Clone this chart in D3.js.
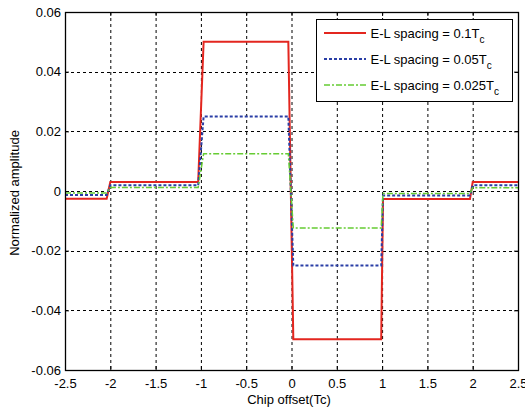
<!DOCTYPE html>
<html><head><meta charset="utf-8">
<script src="https://cdn.jsdelivr.net/npm/d3@7"></script>
<style>body{margin:0;background:#fff}svg{display:block}text{font-family:"Liberation Sans",Arial,sans-serif}</style>
</head><body><svg id="c" width="525" height="410"></svg>
<script>
// Breakpoints (Chip offset, Tc) shared by all series
const xBreaks = [-2.5, -2.04, -2.0, -1.03, -0.97, -0.035, 0.02, 0.99, 1.01, 1.97, 2.0, 2.5];
const red   = [-0.0026, -0.0026, 0.003, 0.003, 0.05, 0.05, -0.0497, -0.0497, -0.0027, -0.0027, 0.003, 0.003];
const blue  = [-0.0013, -0.0013, 0.0019, 0.0019, 0.025, 0.025, -0.025, -0.025, -0.0015, -0.0015, 0.0019, 0.0019];
const green = [-0.0007, -0.0007, 0.0012, 0.0012, 0.0125, 0.0125, -0.0124, -0.0124, -0.0008, -0.0008, 0.0011, 0.0011];
const xTicks = [-2.5, -2, -1.5, -1, -0.5, 0, 0.5, 1, 1.5, 2, 2.5];
const yTicks = [-0.06, -0.04, -0.02, 0, 0.02, 0.04, 0.06];
const seriesNames = ["E-L spacing = 0.1T", "E-L spacing = 0.05T", "E-L spacing = 0.025T"];

const svg = d3.select("#c");
const L = 65, R = 518, T = 12, B = 370;
const FS = 13;
const x = d3.scaleLinear().domain([-2.5, 2.5]).range([L, R]);
const y = d3.scaleLinear().domain([-0.06, 0.06]).range([B, T]);

// grid
const g = svg.append("g");
g.selectAll(".gx").data(xTicks.slice(1, -1)).join("line")
  .attr("x1", d => x(d) + 0.5).attr("x2", d => x(d) + 0.5).attr("y1", T).attr("y2", B)
  .attr("stroke", "#000").attr("stroke-width", 1).attr("stroke-dasharray", "3,3");
g.selectAll(".gy").data(yTicks.slice(1, -1)).join("line")
  .attr("y1", d => Math.round(y(d)) + 0.5).attr("y2", d => Math.round(y(d)) + 0.5).attr("x1", L).attr("x2", R)
  .attr("stroke", "#000").attr("stroke-width", 1).attr("stroke-dasharray", "3,3");

// axes with inward ticks
const fmt = d => d === 0 ? "0" : String(d);
const axB = svg.append("g").attr("transform", `translate(0,${B})`)
  .call(d3.axisBottom(x).tickValues(xTicks).tickSize(-4).tickPadding(8).tickFormat(fmt));
const axL = svg.append("g").attr("transform", `translate(${L},0)`)
  .call(d3.axisLeft(y).tickValues(yTicks).tickSize(-4).tickPadding(4).tickFormat(fmt));
const axT = svg.append("g").attr("transform", `translate(0,${T})`)
  .call(d3.axisTop(x).tickValues(xTicks).tickSize(-4).tickFormat(""));
const axR = svg.append("g").attr("transform", `translate(${R},0)`)
  .call(d3.axisRight(y).tickValues(yTicks).tickSize(-4).tickFormat(""));
[axB, axL, axT, axR].forEach(a => {
  a.select(".domain").remove();
  a.selectAll("line").attr("stroke", "#000");
  a.selectAll("text").attr("font-size", FS).attr("fill", "#000").attr("font-family", "'Liberation Sans',Arial,sans-serif");
});
axB.selectAll("text").attr("y", 0).attr("dy", 0).attr("transform", "translate(0,18)");

// data lines
const line = d3.line().x(d => x(d[0])).y(d => y(d[1]));
const styles = [
  {data: red, color: "#e3261f", w: 2, dash: null},
  {data: blue, color: "#2a3ea6", w: 2, dash: "3,2"},
  {data: green, color: "#66cc33", w: 1.5, dash: "6,2,2,2"}
];
svg.append("clipPath").attr("id", "pc").append("rect")
  .attr("x", L).attr("y", T).attr("width", R - L).attr("height", B - T);
styles.forEach(s => {
  svg.append("path").datum(xBreaks.map((xv, i) => [xv, s.data[i]]))
    .attr("d", line).attr("fill", "none").attr("stroke", s.color)
    .attr("stroke-width", s.w).attr("stroke-dasharray", s.dash)
    .attr("clip-path", "url(#pc)");
});

// frame
svg.append("rect").attr("x", L + 0.5).attr("y", T + 0.5).attr("width", R - L).attr("height", B - T)
  .attr("fill", "none").attr("stroke", "#000").attr("stroke-width", 1.3);

// legend
const lg = svg.append("g");
lg.append("rect").attr("x", 316.5).attr("y", 19.5).attr("width", 196).attr("height", 82)
  .attr("fill", "#fff").attr("stroke", "#000").attr("stroke-width", 1);
const rowsY = [33, 59, 85];
styles.forEach((s, i) => {
  lg.append("line").attr("x1", 324).attr("x2", 366).attr("y1", rowsY[i]).attr("y2", rowsY[i])
    .attr("stroke", s.color).attr("stroke-width", s.w).attr("stroke-dasharray", s.dash);
  const t = lg.append("text").attr("x", 370.5).attr("y", rowsY[i] + 4.5).attr("font-size", FS).attr("fill", "#000");
  t.append("tspan").text(seriesNames[i]);
  t.append("tspan").attr("font-size", 10).attr("dy", 5).text("c");
});

// axis labels
svg.append("text").attr("x", 289).attr("y", 404).attr("text-anchor", "middle")
  .attr("font-size", FS).attr("fill", "#000").text("Chip offset(Tc)");
svg.append("text").attr("transform", `translate(19,193) rotate(-90)`).attr("text-anchor", "middle")
  .attr("font-size", FS).attr("fill", "#000").text("Normalized amplitude");
</script></body></html>
